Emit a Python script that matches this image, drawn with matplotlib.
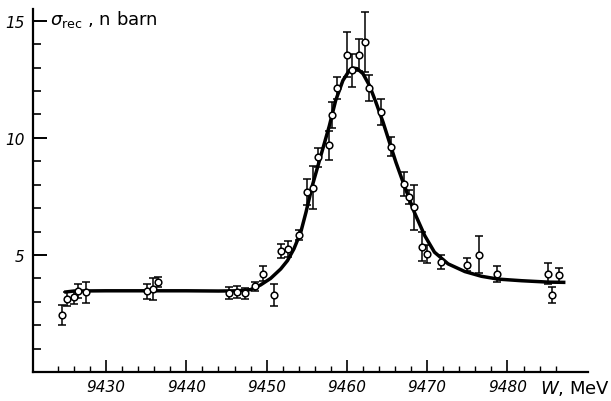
#!/usr/bin/env python3
# plot.py - recreate the Upsilon resonance cross-section plot

import numpy as np
import matplotlib
matplotlib.use("Agg")
import matplotlib.pyplot as plt
from matplotlib.ticker import FixedLocator

# measured points: energy W (MeV), cross-section (nb), error
w_data = [9424.5, 9425.1, 9426.0, 9426.5, 9427.5,
          9435.1, 9435.8, 9436.5,
          9445.3, 9446.25, 9447.25, 9448.6, 9449.6, 9450.9,
          9451.75, 9452.6, 9454.0, 9455.0, 9455.8, 9456.4,
          9457.8, 9458.2, 9458.8, 9460.0, 9460.6, 9461.5,
          9462.25, 9462.8, 9464.2, 9465.5, 9467.05, 9467.7,
          9468.4, 9469.3, 9470.0, 9471.7, 9474.9, 9476.5,
          9478.7, 9485.1, 9485.6, 9486.4]
sigma_data = [2.44, 3.12, 3.20, 3.48, 3.40,
              3.44, 3.55, 3.86,
              3.38, 3.43, 3.36, 3.66, 4.19, 3.30,
              5.18, 5.26, 5.85, 7.68, 7.88, 9.17,
              9.68, 10.96, 12.12, 13.55, 12.88, 13.55,
              14.09, 12.12, 11.12, 9.62, 8.03, 7.49,
              7.03, 5.36, 5.04, 4.71, 4.59, 5.01,
              4.19, 4.19, 3.29, 4.16]
sigma_err = [0.42, 0.28, 0.28, 0.30, 0.45,
             0.30, 0.47, 0.22,
             0.25, 0.25, 0.25, 0.20, 0.32, 0.47,
             0.30, 0.33, 0.22, 0.55, 0.90, 0.40,
             0.62, 0.55, 0.48, 0.97, 0.72, 0.68,
             1.28, 0.55, 0.55, 0.40, 0.50, 0.30,
             0.95, 0.60, 0.38, 0.30, 0.27, 0.80,
             0.35, 0.45, 0.33, 0.30]

# fitted curve
w_fit = [9425.0, 9426.0, 9430.0, 9435.0, 9440.0, 9444.0, 9446.5,
         9448.0, 9449.25, 9450.5, 9451.75, 9452.6, 9453.4, 9454.25,
         9454.9, 9455.7, 9456.75, 9457.8, 9458.6, 9459.5, 9460.3,
         9460.8, 9461.3, 9462.0, 9462.8, 9463.6, 9464.5, 9465.3,
         9466.1, 9467.0, 9468.4, 9469.7, 9470.9, 9472.6, 9474.7,
         9476.75, 9478.8, 9481.75, 9485.1, 9487.0]
sigma_fit = [3.42, 3.46, 3.47, 3.47, 3.47, 3.46, 3.47,
             3.52, 3.72, 4.00, 4.40, 4.76, 5.26, 5.97,
             6.82, 7.97, 9.24, 10.50, 11.60, 12.45, 12.88,
             12.98, 12.95, 12.74, 12.24, 11.53, 10.67, 9.81,
             8.96, 8.10, 6.82, 5.82, 5.12, 4.62, 4.29,
             4.09, 3.97, 3.90, 3.84, 3.83]

y_major = [5, 10, 15]
x_major = [9430, 9440, 9450, 9460, 9470, 9480]

fig = plt.figure(figsize=(6.11, 4.02), dpi=100)
ax = fig.add_axes([0.054, 0.072, 0.908, 0.903])

ax.plot(w_fit, sigma_fit, color="black", lw=2.5, zorder=2)
ax.errorbar(w_data, sigma_data, yerr=sigma_err, fmt="o", color="black",
            mfc="white", mec="black", ms=4.8, mew=1.1, elinewidth=1.1,
            capsize=2.8, capthick=1.2, zorder=3)

ax.set_xlim(9420.9, 9490)
ax.set_ylim(0, 15.5)

for side in ("top", "right"):
    ax.spines[side].set_visible(False)
for side in ("left", "bottom"):
    ax.spines[side].set_linewidth(1.6)

ax.xaxis.set_major_locator(FixedLocator(x_major))
ax.xaxis.set_minor_locator(FixedLocator(np.arange(9424, 9487, 2)))
ax.yaxis.set_major_locator(FixedLocator(y_major))
ax.yaxis.set_minor_locator(FixedLocator(np.arange(1, 16, 1)))

ax.tick_params(axis="x", which="major", direction="in", length=8.5,
               width=1.2, pad=5)
ax.tick_params(axis="x", which="minor", direction="in", length=4.5,
               width=1.0)
ax.tick_params(axis="y", which="major", direction="in", length=10,
               width=1.4, pad=6)
ax.tick_params(axis="y", which="minor", direction="in", length=5.5,
               width=1.2)

for lab in ax.get_xticklabels() + ax.get_yticklabels():
    lab.set_fontstyle("italic")
    lab.set_fontsize(11)

fig.text(50 / 611, 1 - 25 / 402, r"$\sigma_{\rm rec}$ , n barn",
         fontsize=13, family="DejaVu Sans", va="baseline", ha="left")
fig.text(540 / 611, 1 - 394 / 402, r"$W$, MeV",
         fontsize=13, family="DejaVu Sans", va="baseline", ha="left")

fig.savefig("out.png", dpi=100)
